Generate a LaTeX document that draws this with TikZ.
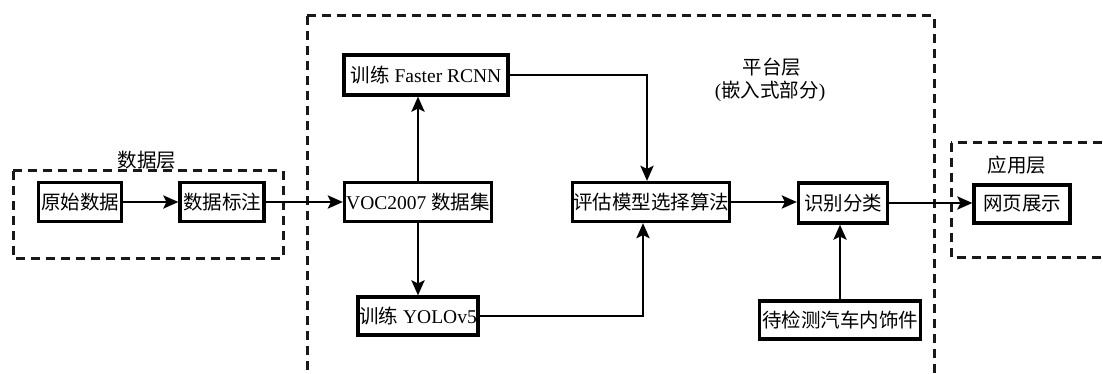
\documentclass[tikz,border=0pt]{standalone}
\usepackage{fontspec}
\setmainfont{Liberation Serif}
\newfontfamily\cjk{Noto Sans CJK SC}
\usetikzlibrary{arrows.meta}
\begin{document}
\begin{tikzpicture}[x=1pt,y=-1pt,
  every node/.style={font=\fontsize{19.5}{22}\selectfont},
  boxnode/.style={draw,line width=3.2pt,inner sep=0pt,minimum height=39,anchor=center},
  layer/.style={draw,line width=3pt,dash pattern=on 9pt off 6pt,gray!20!black},
  arr/.style={line width=2.8pt,-{Stealth[length=15pt,width=13pt,inset=3pt]}},
  lbl/.style={inner sep=0pt}]
\useasboundingbox (0,0) rectangle (1103,374);
\fill[white] (0,0) rectangle (1103,374);
% layers
\draw[layer] (13,171) rectangle (283,258);
\draw[layer] (307,16) rectangle (934,376);
\draw[layer] (951,143) rectangle (1115,257);
\node[lbl] (tdata) at (147,160) {\cjk 数据层};
\node[lbl] (tplat1) at (772,67) {\cjk 平台层};
\node[lbl] (tplat2) at (770,91) {(\cjk 嵌入式部分\rmfamily)};
\node[lbl] (tapp) at (1017,165) {\cjk 应用层};
% nodes
\node[boxnode,minimum width=83] (raw) at (80,202) {\cjk 原始数据};
\node[boxnode,minimum width=84] (mark) at (222,202) {\cjk 数据标注};
\node[boxnode,minimum width=147] (voc) at (418,202) {VOC2007 {\cjk 数据集}};
\node[boxnode,minimum width=164,minimum height=40] (faster) at (426,75) {{\cjk 训练} Faster RCNN};
\node[boxnode,minimum width=120,minimum height=38] (yolo) at (418,316) {{\cjk 训练} YOLOv5};
\node[boxnode,minimum width=157] (eval) at (651,202) {\cjk 评估模型选择算法};
\node[boxnode,minimum width=89,minimum height=40] (recog) at (843,203) {\cjk 识别分类};
\node[boxnode,minimum width=161,minimum height=38] (test) at (840,320) {\cjk 待检测汽车内饰件};
\node[boxnode,minimum width=96,minimum height=38] (web) at (1022,204) {\cjk 网页展示};
% connectors
\draw[arr] (raw) -- (mark);
\draw[arr] (mark) -- (voc);
\draw[arr] (voc.north) -- (voc.north |- faster.south);
\draw[arr] (voc.south) -- (voc.south |- yolo.north);
\draw[arr] (faster.east) -| ([xshift=-4pt]eval.north);
\draw[arr] (yolo.east) -| ([xshift=-8pt]eval.south);
\draw[arr] (eval) -- (eval -| recog.west);
\draw[arr] (test.north) -- (test.north |- recog.south);
\draw[arr] (recog.east) -- (recog.east -| web.west);
\end{tikzpicture}
\end{document}
